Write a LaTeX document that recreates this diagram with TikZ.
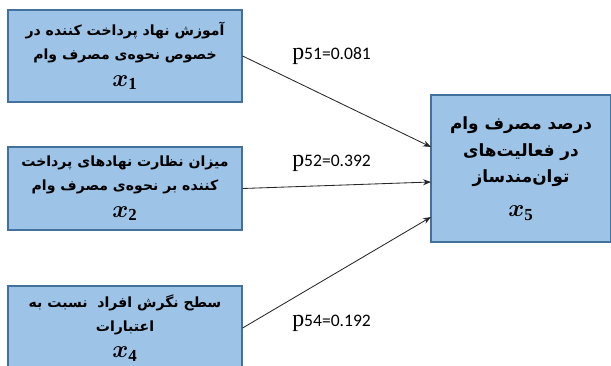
\documentclass[tikz,border=0pt]{standalone}
\usepackage{fontspec}
\usepackage{amsmath}
\usepackage{bm}
\usetikzlibrary{arrows.meta}
\setmainfont{Liberation Serif}
\newfontfamily\farsi[Script=Arabic]{DejaVu Sans}
\newfontfamily\calib{Carlito}
\TeXXeTstate=1
\definecolor{boxfill}{RGB}{157,195,230}
\definecolor{boxline}{RGB}{65,113,156}

\begin{document}
\begin{tikzpicture}[>=Stealth, x=0.025cm, y=-0.025cm,
    varbox/.style={draw=boxline, fill=boxfill, line width=0.8pt, inner sep=0pt,
        align=center, font=\farsi\bfseries\fontsize{10}{17}\selectfont},
    link/.style={->, line width=0.6pt, draw=black!85},
    coef/.style={anchor=base west, inner sep=0pt}]
        \useasboundingbox (0,0) rectangle (611,366);

        % Box for x1
        \node[varbox, minimum width=5.85cm, minimum height=2.3cm] (b1) at (125,56)
            {\beginR آموزش نهاد پرداخت کننده در\endR\\
             \beginR خصوص نحوه^^^^200cی مصرف وام\endR\\[2pt]
             {\LARGE $\bm{x}_{\mathbf{1}}$}};

        % Box for x2
        \node[varbox, minimum width=5.85cm, minimum height=2.075cm] (b2) at (125,188.5)
            {\beginR میزان نظارت نهادهای پرداخت\endR\\
             \beginR کننده بر نحوه^^^^200cی مصرف وام\endR\\[2pt]
             {\LARGE $\bm{x}_{\mathbf{2}}$}};

        % Box for x4 (runs off the bottom)
        \node[varbox, minimum width=5.85cm, minimum height=2.1cm] (b4) at (125,328)
            {\beginR سطح نگرش افراد\ \ نسبت به\endR\\
             \beginR اعتبارات\endR\\[2pt]
             {\LARGE $\bm{x}_{\mathbf{4}}$}};

        % Box for x5
        \node[varbox, minimum width=4.5cm, minimum height=3.675cm,
            font=\farsi\bfseries\fontsize{12}{19}\selectfont] (b5) at (521,168.5)
            {\beginR درصد مصرف وام\endR\\
             \beginR در فعالیت^^^^200cهای\endR\\
             \beginR توان^^^^200cمندساز\endR\\[5pt]
             {\LARGE $\bm{x}_{\mathbf{5}}$}};

        % Arrow ends on the left side of x5
        \coordinate (t1) at (431,147);
        \coordinate (t2) at (431,182);
        \coordinate (t4) at (431,217);

        \draw[link] (b1.east) -- (t1);
        \draw[link] (b2.east) -- (t2);
        \draw[link] (b4.east) -- (t4);

        % Path coefficients
        \node[coef] (p51) at (292,60) {{\fontsize{17}{17}\selectfont p}{\calib\fontsize{12.5}{12.5}\selectfont 51=0.081}};
        \node[coef] (p52) at (292,167) {{\fontsize{17}{17}\selectfont p}{\calib\fontsize{12.5}{12.5}\selectfont 52=0.392}};
        \node[coef] (p54) at (292,326) {{\fontsize{17}{17}\selectfont p}{\calib\fontsize{12.5}{12.5}\selectfont 54=0.192}};

        \end{tikzpicture}
\end{document}
